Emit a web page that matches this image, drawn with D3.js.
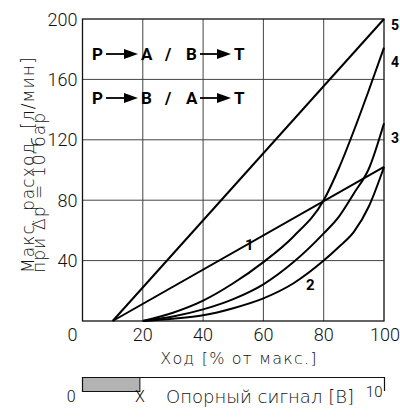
<!DOCTYPE html>
<html>
<head>
<meta charset="utf-8">
<script src="https://cdn.jsdelivr.net/npm/d3@7"></script>
<style>
  body { margin: 0; background: #fff; }
  text { font-family: Roboto, "Noto Sans", sans-serif; }
  text.title { font-family: "DejaVu Sans", sans-serif; font-weight: 200; }
</style>
</head>
<body>
<div id="plot"></div>
<script>
// curves: stroke [%] -> flow [l/min]
const curve1 = [[10, 0], [100, 102]];
const curve2 = [[20, 0], [30, 1.5], [40, 3.8], [50, 8.5], [60, 15], [70, 25], [80, 40], [85, 49], [90, 59], [95, 76], [100, 102]];
const curve3 = [[20, 0], [30, 3], [40, 7.7], [50, 14.5], [60, 24.3], [70, 39], [80, 58], [85, 69], [90, 84.5], [95, 101], [100, 131]];
const curve4 = [[20, 0], [30, 5.5], [40, 13.5], [50, 25], [60, 39], [70, 56], [80, 80], [85, 101], [90, 126], [95, 153], [100, 181]];
const curve5 = [[10, 0], [100, 200]];

const xTicks = [0, 20, 40, 60, 80, 100];
const yTicks = [0, 40, 80, 120, 160, 200];
const signalTicks = [0, 10];
const signalX = 1.9;   // "X" on the reference signal bar

const width = 400;
const height = 417;

const x = d3.scaleLinear().domain([0, 100]).range([82.5, 384]);
const y = d3.scaleLinear().domain([0, 200]).range([321, 19]);
const s = d3.scaleLinear().domain([0, 10]).range([82.5, 384.5]);

const svg = d3.select("#plot").append("svg")
    .attr("width", width)
    .attr("height", height)
    .attr("viewBox", [0, 0, width, height]);

// grid
svg.append("g")
  .selectAll("line")
  .data(xTicks.slice(1, -1))
  .join("line")
    .attr("x1", d => x(d)).attr("x2", d => x(d))
    .attr("y1", y(0)).attr("y2", y(200))
    .attr("stroke", "#444").attr("stroke-width", 1);

svg.append("g")
  .selectAll("line")
  .data(yTicks.slice(1, -1))
  .join("line")
    .attr("x1", x(0)).attr("x2", x(100))
    .attr("y1", d => y(d)).attr("y2", d => y(d))
    .attr("stroke", "#444").attr("stroke-width", 1);

svg.append("rect")
    .attr("x", x(0)).attr("y", y(200))
    .attr("width", x(100) - x(0)).attr("height", y(0) - y(200))
    .attr("fill", "none").attr("stroke", "#111").attr("stroke-width", 1.3);

// tick labels
svg.append("g")
    .style("font-size", "18px").style("font-weight", 300).attr("fill", "#111")
  .selectAll("text")
  .data(yTicks.slice(1))
  .join("text")
    .attr("x", x(0) - 5)
    .attr("y", d => y(d) + 6.5)
    .attr("text-anchor", "end")
    .text(d => d);

svg.append("g")
    .style("font-size", "18px").style("font-weight", 300).attr("fill", "#111")
  .selectAll("text")
  .data(xTicks)
  .join("text")
    .attr("x", d => d === 0 ? x(d) - 5 : d === 100 ? x(d) + 1 : x(d))
    .attr("y", 341)
    .attr("text-anchor", d => d === 0 ? "end" : "middle")
    .text(d => d);

// axis titles
svg.append("text")
    .attr("class", "title")
    .attr("x", 239).attr("y", 364)
    .attr("text-anchor", "middle")
    .style("font-size", "16px").style("letter-spacing", "1.2px").attr("fill", "#111")
    .text("Ход [% от макс.]");

const ytitle = svg.append("g")
    .attr("transform", "translate(0,273) rotate(-90)")
    .style("font-size", "17px").style("letter-spacing", "1.1px").attr("fill", "#111");
ytitle.append("text").attr("class", "title").attr("x", 0).attr("y", 34)
    .attr("xml:space", "preserve").text("Макс. расход  [л/мин]");
ytitle.append("text").attr("class", "title").attr("x", 0).attr("y", 45).text("при Δp = 10 бар");

// curves
const line = d3.line(d => x(d[0]), d => y(d[1])).curve(d3.curveMonotoneX);
svg.append("g")
    .attr("fill", "none").attr("stroke", "#000").attr("stroke-width", 2)
  .selectAll("path")
  .data([curve1, curve2, curve3, curve4, curve5])
  .join("path")
    .attr("d", line);

// curve numbers
const labels = svg.append("g")
    .style("font-size", "14px").style("font-weight", "bold").attr("fill", "#000");
labels.append("text").attr("x", 391).attr("y", 30).text("5");
labels.append("text").attr("x", 391).attr("y", 67).text("4");
labels.append("text").attr("x", 391).attr("y", 143).text("3");
labels.append("text").attr("x", 245).attr("y", 250).style("font-size", "15px").text("1");
labels.append("text").attr("x", 306).attr("y", 290).style("font-size", "15px").text("2");

// flow direction legend
function arrow(g, x0, x1, yy) {
  g.append("line").attr("x1", x0).attr("x2", x1 - 13).attr("y1", yy).attr("y2", yy)
    .attr("stroke", "#000").attr("stroke-width", 1.8);
  g.append("path")
    .attr("d", `M${x1 - 14},${yy - 5}L${x1},${yy}L${x1 - 14},${yy + 5}Z`)
    .attr("fill", "#000");
}
const leg = svg.append("g")
    .style("font-size", "17px").style("font-weight", "bold").attr("fill", "#000");
[[60, ["P", "A", "B", "T"]], [104, ["P", "B", "A", "T"]]].forEach(([yy, t]) => {
  leg.append("text").attr("x", 92).attr("y", yy).text(t[0]);
  arrow(leg, 106, 138, yy - 6);
  leg.append("text").attr("x", 141).attr("y", yy).text(t[1]);
  leg.append("text").attr("x", 165).attr("y", yy).text("/");
  leg.append("text").attr("x", 186).attr("y", yy).text(t[2]);
  arrow(leg, 200, 231, yy - 6);
  leg.append("text").attr("x", 234).attr("y", yy).text(t[3]);
});

// reference signal bar
const sig = svg.append("g");
sig.append("rect")
    .attr("x", s(0)).attr("y", 377.5)
    .attr("width", s(signalX) - s(0)).attr("height", 14)
    .attr("fill", "#b3b3b3").attr("stroke", "#111").attr("stroke-width", 1);
sig.append("path")
    .attr("d", `M${s(0)},392V377.5H${s(10)}V391`)
    .attr("fill", "none").attr("stroke", "#111").attr("stroke-width", 1.2);

const sigText = sig.append("g")
    .style("font-weight", 300).attr("fill", "#111");
sigText.append("text").attr("x", s(signalTicks[0]) - 7).attr("y", 402)
    .attr("text-anchor", "end").style("font-size", "16px").text(signalTicks[0]);
sigText.append("text").attr("x", s(signalX)).attr("y", 402)
    .attr("text-anchor", "middle").style("font-size", "16px").text("X");
sigText.append("text").attr("x", s(signalTicks[1]) - 2).attr("y", 397)
    .attr("text-anchor", "end").style("font-size", "15px").text(signalTicks[1]);
sigText.append("text").attr("class", "title").attr("x", 260).attr("y", 403)
    .attr("text-anchor", "middle").style("font-size", "18px").text("Опорный сигнал [В]");
</script>
</body>
</html>
